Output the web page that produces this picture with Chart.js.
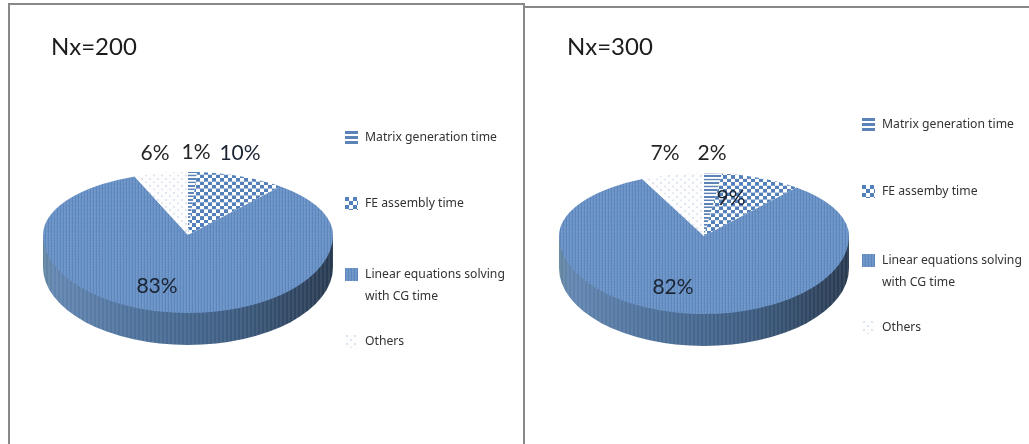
<!DOCTYPE html>
<html lang="en">
<head>
    <meta charset="UTF-8">
    <title>Nx=200 / Nx=300 time share</title>
    <style>
        html, body { margin: 0; padding: 0; background: #fff; }
        body { position: relative; width: 1029px; height: 444px; overflow: hidden; }
        .frame { position: absolute; box-sizing: border-box; border: 0 solid #888; }
        #frameLeft { left: 8px; top: 3px; width: 517px; height: 441px; border-width: 2px 2px 0 2px; }
        #frameRight { left: 524px; top: 6px; width: 505px; height: 438px; border-top-width: 2px; }
        canvas { position: absolute; top: 0; }
    </style>
</head>
<body>
    <div class="frame" id="frameLeft"></div>
    <div class="frame" id="frameRight"></div>
    <canvas id="pieLeft" width="515" height="444" style="left:0"></canvas>
    <canvas id="pieRight" width="514" height="444" style="left:515px"></canvas>

    <script src="https://cdn.jsdelivr.net/npm/chart.js"></script>
    <script>
        // data
        const categoriesLeft = ['Matrix generation time', 'FE assembly time', 'Linear equations solving with CG time', 'Others'];
        const categoriesRight = ['Matrix generation time', 'FE assemby time', 'Linear equations solving with CG time', 'Others'];
        const valuesLeft = [1, 10, 83, 6];
        const valuesRight = [2, 9, 82, 7];
        const titleLeft = 'Nx=200';
        const titleRight = 'Nx=300';

        // squash of the top face above and below the apex, the apex sits high like in a 3D pie
        const SQUASH_UP = 63 / 145;
        const SQUASH_DOWN = 78 / 145;
        const DEPTH = 32;

        // rows are stretched by 1/yScale so they look right once the pie is squashed
        function makePattern(kind, yScale) {
            const c = document.createElement('canvas');
            const g = c.getContext('2d');
            const r = Math.round(1 / yScale);
            if (kind === 'stripes') {
                // the legend swatch has three fat bars, the slice has finer rows
                const on = r === 1 ? 3 : 2 * r;
                const off = r === 1 ? 2 : 2 * r;
                c.width = 4; c.height = on + off;
                g.fillStyle = '#ffffff'; g.fillRect(0, 0, 4, on + off);
                g.fillStyle = '#5b83b8'; g.fillRect(0, 0, 4, on);
            } else if (kind === 'checker') {
                c.width = 8; c.height = 8 * r;
                g.fillStyle = '#ffffff'; g.fillRect(0, 0, 8, 8 * r);
                g.fillStyle = '#5380bb';
                g.fillRect(0, 0, 4, 4 * r);
                g.fillRect(4, 4 * r, 4, 4 * r);
            } else if (kind === 'fine') {
                c.width = 3; c.height = 3;
                g.fillStyle = '#6c94c6'; g.fillRect(0, 0, 3, 3);
                g.fillStyle = '#5d86bc'; g.fillRect(0, 0, 1, 3);
                g.fillStyle = '#7ba0cf'; g.fillRect(1, 0, 1, 1);
            } else {
                c.width = 8; c.height = 8 * r;
                g.fillStyle = '#fdfdfe'; g.fillRect(0, 0, 8, 8 * r);
                g.fillStyle = '#dde6f0';
                g.fillRect(1, 0, 2, 2 * r);
                g.fillRect(5, 4 * r, 2, 2 * r);
            }
            return g.createPattern(c, 'repeat');
        }

        // faint vertical ribs on the side wall
        function makeRibs() {
            const c = document.createElement('canvas');
            c.width = 4; c.height = 1;
            const g = c.getContext('2d');
            g.fillStyle = 'rgba(255,255,255,0.07)';
            g.fillRect(0, 0, 2, 1);
            return g.createPattern(c, 'repeat');
        }

        const kinds = ['stripes', 'checker', 'fine', 'dots'];
        const sliceFills = kinds.map(k => makePattern(k, SQUASH_UP));
        const swatchFills = kinds.map(k => makePattern(k, 1));
        const ribs = makeRibs();

        const pie3d = {
            id: 'pie3d',
            beforeDatasetsDraw(chart) {
                const ctx = chart.ctx;
                const arcs = chart.getDatasetMeta(0).data;
                const { x, y, outerRadius } = arcs[0].getProps(['x', 'y', 'outerRadius'], true);
                const ryDown = outerRadius * SQUASH_DOWN;

                // side wall
                const wall = ctx.createLinearGradient(x - outerRadius, 0, x + outerRadius, 0);
                wall.addColorStop(0, '#62859f');
                wall.addColorStop(0.04, '#6285b0');
                wall.addColorStop(0.3, '#4e729c');
                wall.addColorStop(0.65, '#3d5c81');
                wall.addColorStop(1, '#27394f');
                ctx.save();
                ctx.beginPath();
                ctx.ellipse(x, y + DEPTH, outerRadius, ryDown, 0, 0, Math.PI);
                ctx.lineTo(x - outerRadius, y);
                ctx.lineTo(x + outerRadius, y);
                ctx.closePath();
                ctx.fillStyle = wall;
                ctx.fill();
                ctx.fillStyle = ribs;
                ctx.fill();
                ctx.restore();

                // top face, upper and lower half with their own squash
                [[0, y, SQUASH_UP], [y, chart.height - y, SQUASH_DOWN]].forEach(([top, h, s]) => {
                    ctx.save();
                    ctx.beginPath();
                    ctx.rect(0, top, chart.width, h);
                    ctx.clip();
                    ctx.translate(0, y);
                    ctx.scale(1, s);
                    ctx.translate(0, -y);
                    arcs.forEach(a => a.draw(ctx));
                    ctx.restore();
                });
                return false;
            },
            afterDraw(chart, args, opts) {
                const ctx = chart.ctx;
                ctx.save();
                ctx.textBaseline = 'middle';
                ctx.textAlign = 'left';

                ctx.fillStyle = '#1c1c1c';
                ctx.font = '24px Lato, sans-serif';
                ctx.fillText(opts.title, opts.titleAt[0], opts.titleAt[1]);

                ctx.font = '21px Lato, sans-serif';
                ctx.textAlign = 'center';
                chart.data.datasets[0].data.forEach((v, i) => {
                    const p = opts.labelAt[i];
                    ctx.fillStyle = i === 0 || i === 3 ? '#262626' : '#1b2433';
                    ctx.fillText(v + '%', p[0], p[1]);
                });

                ctx.textAlign = 'left';
                ctx.font = '12.2px "Noto Sans", sans-serif';
                opts.legendY.forEach((ly, i) => {
                    ctx.fillStyle = swatchFills[i];
                    ctx.save();
                    ctx.translate(opts.legendX, ly - 6);
                    ctx.fillRect(0, 0, 13, 13);
                    ctx.restore();
                    ctx.fillStyle = '#333333';
                    splitLabel(chart.data.labels[i]).forEach((t, n) => ctx.fillText(t, opts.legendX + 20, ly + 1 + n * 22));
                });
                ctx.restore();
            }
        };

        function splitLabel(label) {
            const cut = label.indexOf(' with CG');
            return cut < 0 ? [label] : [label.slice(0, cut), label.slice(cut + 1)];
        }

        function makePie(id, labels, values, padding, textOpts) {
            return new Chart(document.getElementById(id), {
                type: 'pie',
                data: {
                    labels: labels,
                    datasets: [{ data: values, backgroundColor: sliceFills, borderWidth: 0 }]
                },
                options: {
                    responsive: false,
                    animation: false,
                    layout: { padding: padding },
                    plugins: {
                        legend: { display: false },
                        tooltip: { enabled: false },
                        pie3d: textOpts
                    }
                },
                plugins: [pie3d]
            });
        }

        const chartLeft = makePie('pieLeft', categoriesLeft, valuesLeft,
            { left: 43, right: 182, top: 90, bottom: 64 },
            {
                title: titleLeft, titleAt: [51, 47],
                labelAt: [[196, 152], [240, 153], [157, 286], [155, 153]],
                legendX: 345, legendY: [137, 203, 274, 341]
            });

        const chartRight = makePie('pieRight', categoriesRight, valuesRight,
            { left: 44, right: 180, top: 91, bottom: 63 },
            {
                title: titleRight, titleAt: [52, 47],
                labelAt: [[197, 153], [216, 198], [158, 287], [150, 153]],
                legendX: 347, legendY: [124, 191, 260, 327]
            });
    </script>
</body>
</html>
